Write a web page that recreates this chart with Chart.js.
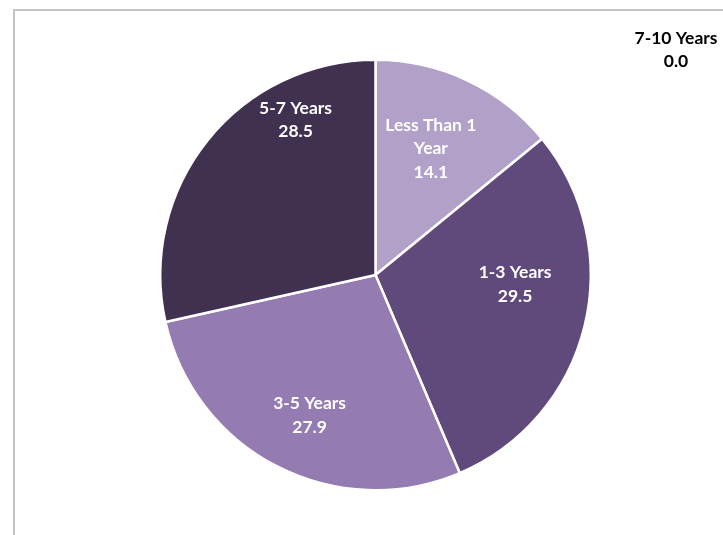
<!DOCTYPE html>
<html>
<head>
<meta charset="utf-8">
<script src="https://cdn.jsdelivr.net/npm/chart.js@4"></script>
<style>
  html, body { margin: 0; padding: 0; background: #fff; }
  #wrap { position: relative; width: 723px; height: 535px; overflow: hidden; }
  #frame {
    position: absolute; left: 13px; top: 9px; width: 800px; height: 600px;
    border-left: 2px solid #c4c4c4; border-top: 2px solid #c4c4c4;
  }
  canvas { position: absolute; left: 0; top: 0; }
</style>
</head>
<body>
<div id="wrap">
  <div id="frame"></div>
  <canvas id="pie" width="723" height="535"></canvas>
</div>
<script>
const categories = ["Less Than 1 Year", "1-3 Years", "3-5 Years", "5-7 Years", "7-10 Years"];
const labelLines = [["Less Than 1", "Year"], ["1-3 Years"], ["3-5 Years"], ["5-7 Years"], ["7-10 Years"]];
const shares = [14.1, 29.5, 27.9, 28.5, 0.0];
const sliceColors = ["#B1A0C7", "#5F4A7B", "#947BB1", "#403151", "#CCC1DA"];

// label placement per slice: [angle shift in degrees, fraction of radius]
const labelPlacement = [[-1.7, 0.64], [-10, 0.65], [-2, 0.72], [24, 0.81], [0, 0]];

const sliceLabels = {
    id: "sliceLabels",
    afterDatasetsDraw(chart) {
        const ctx = chart.ctx;
        const meta = chart.getDatasetMeta(0);
        ctx.save();
        ctx.font = "bold 17.5px Lato";
        ctx.textAlign = "center";
        ctx.textBaseline = "middle";
        meta.data.forEach((arc, i) => {
            const lines = labelLines[i].concat([shares[i].toFixed(1)]);
            const lh = 23.5;
            let x, y;
            if (shares[i] === 0) {
                // empty slice: label sits in the top right corner
                ctx.fillStyle = "#000";
                x = chart.width - 47;
                y = 38;
                lines.forEach((t, k) => ctx.fillText(t, x, y + k * lh));
                return;
            }
            const p = arc.getProps(["x", "y", "startAngle", "endAngle", "outerRadius"], true);
            const [shift, frac] = labelPlacement[i];
            const mid = (p.startAngle + p.endAngle) / 2 + shift * Math.PI / 180;
            x = p.x + Math.cos(mid) * p.outerRadius * frac;
            y = p.y + Math.sin(mid) * p.outerRadius * frac;
            ctx.fillStyle = "#fff";
            const top = y - (lines.length - 1) * lh / 2;
            lines.forEach((t, k) => ctx.fillText(t, x, top + k * lh));
        });
        ctx.restore();
    }
};

new Chart(document.getElementById("pie"), {
    type: "pie",
    data: {
        labels: categories,
        datasets: [{
            data: shares,
            backgroundColor: sliceColors,
            borderColor: "#fff",
            borderWidth: 2.5
        }]
    },
    options: {
        responsive: false,
        animation: false,
        layout: { padding: { left: 159, right: 131, top: 58, bottom: 43 } },
        plugins: {
            legend: { display: false },
            tooltip: { enabled: false }
        }
    },
    plugins: [sliceLabels]
});
</script>
</body>
</html>
